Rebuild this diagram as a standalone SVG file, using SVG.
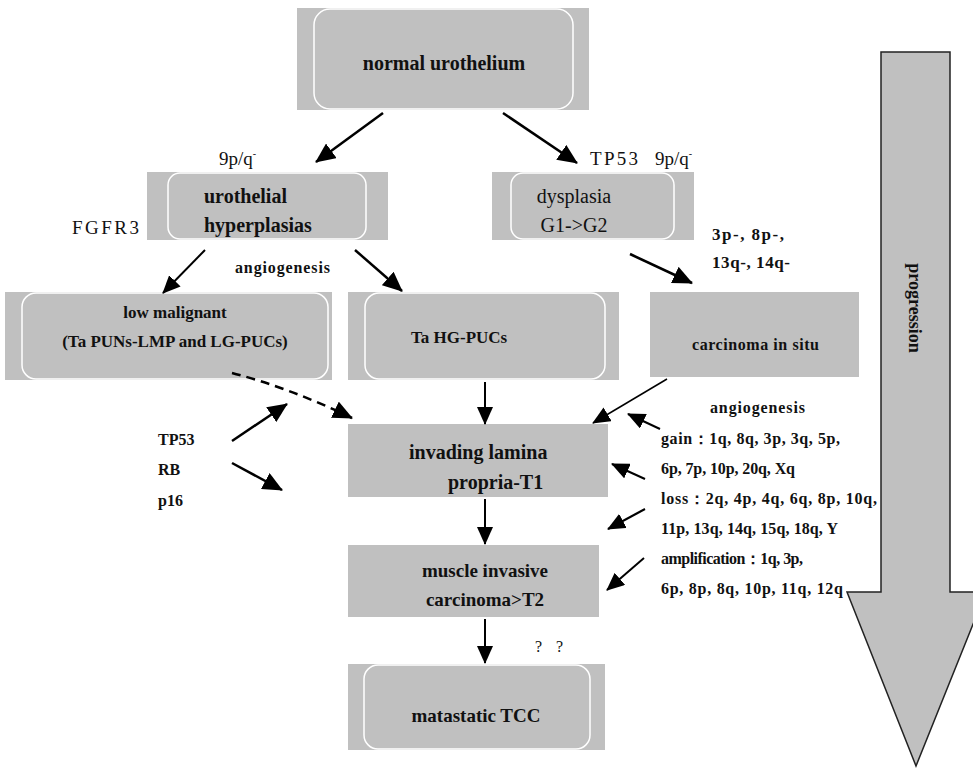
<svg xmlns="http://www.w3.org/2000/svg" width="973" height="773" viewBox="0 0 973 773" font-family="Liberation Serif, DejaVu Serif, serif">
<defs>
<marker id="ah" markerUnits="userSpaceOnUse" markerWidth="20" markerHeight="18" refX="19" refY="9" orient="auto" viewBox="0 0 20 18"><path d="M0,0 L20,9 L0,18 z" fill="#000"/></marker>
<marker id="ahs" markerUnits="userSpaceOnUse" markerWidth="18" markerHeight="16" refX="17" refY="8" orient="auto" viewBox="0 0 18 16"><path d="M0,0 L18,8 L0,16 z" fill="#000"/></marker>
</defs>
<style>
.box{fill:#c0c0c0;}
.inner{fill:#c0c0c0;stroke:#fff;stroke-width:1.5;}
text{font-family:'Liberation Serif','DejaVu Serif',serif;fill:#111;}
.b{font-weight:bold;}
.c{text-anchor:middle;}
.ln{stroke:#000;stroke-width:2.5;fill:none;marker-end:url(#ah);}
.lt{stroke:#000;stroke-width:2;fill:none;marker-end:url(#ahs);}
</style>
<rect width="973" height="773" fill="#fff"/>

<g id="progression">
<polygon points="881,52 950,52 950,592 986,592 916,766 847,592 881,592" fill="#c0c0c0" stroke="#222" stroke-width="1.5"/>
<text class="b c" font-size="18" transform="translate(909,308) rotate(90)">progression</text>
</g>

<g id="normal">
<rect class="box" x="297" y="8" width="292" height="102"/>
<rect class="inner" x="314" y="9" width="259" height="100" rx="16"/>
<text class="b c" x="444" y="70" font-size="20">normal urothelium</text>
</g>

<g id="hyperplasia">
<rect class="box" x="147" y="172" width="241" height="68"/>
<rect class="inner" x="168" y="173" width="198" height="66" rx="12"/>
<text class="b" x="204" y="203" font-size="20">urothelial</text>
<text class="b" x="204" y="232" font-size="20">hyperplasias</text>
</g>

<g id="dysplasia">
<rect class="box" x="492" y="172" width="202" height="68"/>
<rect class="inner" x="511" y="173" width="163" height="66" rx="12"/>
<text class="c" x="574" y="203" font-size="20">dysplasia</text>
<text class="c" x="574" y="232" font-size="20">G1-&gt;G2</text>
</g>

<g id="lowmalignant">
<rect class="box" x="5" y="292" width="327" height="88"/>
<rect class="inner" x="22" y="293" width="306" height="86" rx="14"/>
<text class="b c" x="175" y="318" font-size="17">low malignant</text>
<text class="b c" x="175" y="347" font-size="17">(Ta PUNs-LMP and LG-PUCs)</text>
</g>

<g id="tahg">
<rect class="box" x="348" y="292" width="271" height="88"/>
<rect class="inner" x="365" y="293" width="240" height="86" rx="14"/>
<text class="b" x="411" y="343" font-size="17">Ta HG-PUCs</text>
</g>

<g id="cis">
<rect class="box" x="650" y="292" width="209" height="85"/>
<text class="b" x="692" y="350" font-size="16" textLength="127" lengthAdjust="spacing">carcinoma in situ</text>
</g>

<g id="invading">
<rect class="box" x="348" y="424" width="260" height="73"/>
<text class="b" x="409" y="459" font-size="20">invading lamina</text>
<text class="b" x="448" y="489" font-size="20">propria-T1</text>
</g>

<g id="muscle">
<rect class="box" x="348" y="545" width="251" height="72"/>
<text class="b c" x="485" y="577" font-size="19">muscle invasive</text>
<text class="b c" x="485" y="606" font-size="19">carcinoma&gt;T2</text>
</g>

<g id="metastatic">
<rect class="box" x="348" y="664" width="257" height="86"/>
<rect class="inner" x="364" y="665" width="226" height="84" rx="14"/>
<text class="b c" x="476" y="722" font-size="19">matastatic TCC</text>
</g>

<g id="labels">
<text x="219" y="165" font-size="19">9p/q<tspan font-size="10" dy="-8">-</tspan></text>
<text x="590" y="165" font-size="19" textLength="48" lengthAdjust="spacing">TP53</text>
<text x="655" y="165" font-size="19">9p/q<tspan font-size="10" dy="-8">-</tspan></text>
<text x="72" y="234" font-size="19" textLength="67" lengthAdjust="spacing">FGFR3</text>
<text class="b" x="235" y="273" font-size="16" textLength="95" lengthAdjust="spacing">angiogenesis</text>
<text class="b" x="712" y="240" font-size="17" textLength="72" lengthAdjust="spacing">3p-, 8p-,</text>
<text class="b" x="712" y="268" font-size="17" textLength="78" lengthAdjust="spacing">13q-, 14q-</text>
<text class="b" x="158" y="445" font-size="16">TP53</text>
<text class="b" x="158" y="475" font-size="16">RB</text>
<text class="b" x="158" y="506" font-size="16">p16</text>
<text class="b" x="710" y="413" font-size="16" textLength="95" lengthAdjust="spacing">angiogenesis</text>
<text class="b" x="661" y="444" font-size="16" textLength="179" lengthAdjust="spacing">gain：1q, 8q, 3p, 3q, 5p,</text>
<text class="b" x="661" y="474" font-size="16" textLength="134" lengthAdjust="spacing">6p, 7p, 10p, 20q, Xq</text>
<text class="b" x="661" y="504" font-size="16" textLength="216" lengthAdjust="spacing">loss：2q, 4p, 4q, 6q, 8p, 10q,</text>
<text class="b" x="661" y="534" font-size="16" textLength="177" lengthAdjust="spacing">11p, 13q, 14q, 15q, 18q, Y</text>
<text class="b" x="661" y="564" font-size="16" textLength="142" lengthAdjust="spacing">amplification：1q, 3p,</text>
<text class="b" x="661" y="594" font-size="16" textLength="182" lengthAdjust="spacing">6p, 8p, 8q, 10p, 11q, 12q</text>
<text x="535" y="652" font-size="16" word-spacing="10">? ?</text>
</g>

<g id="connectors">
<line class="ln" x1="383" y1="113" x2="316" y2="162"/>
<line class="ln" x1="503" y1="113" x2="577" y2="163"/>
<line class="lt" x1="205" y1="250" x2="163" y2="293"/>
<line class="ln" x1="355" y1="250" x2="402" y2="291"/>
<line class="ln" x1="630" y1="254" x2="692" y2="283"/>
<line class="lt" x1="485" y1="382" x2="485" y2="424"/>
<line x1="667" y1="379" x2="593" y2="423" stroke="#000" stroke-width="1.5" marker-end="url(#ahs)"/>
<path d="M232,373 Q290,388 352,418" stroke="#000" stroke-width="2.5" fill="none" stroke-dasharray="9,6" marker-end="url(#ah)"/>
<line class="ln" x1="232" y1="441" x2="287" y2="404"/>
<line class="ln" x1="232" y1="463" x2="282" y2="490"/>
<line class="lt" x1="660" y1="429" x2="628" y2="414"/>
<line class="lt" x1="645" y1="479" x2="612" y2="464"/>
<line class="lt" x1="645" y1="509" x2="608" y2="529"/>
<line class="lt" x1="644" y1="558" x2="607" y2="590"/>
<line class="lt" x1="485" y1="499" x2="485" y2="544"/>
<line class="lt" x1="485" y1="619" x2="485" y2="663"/>
</g>
</svg>
